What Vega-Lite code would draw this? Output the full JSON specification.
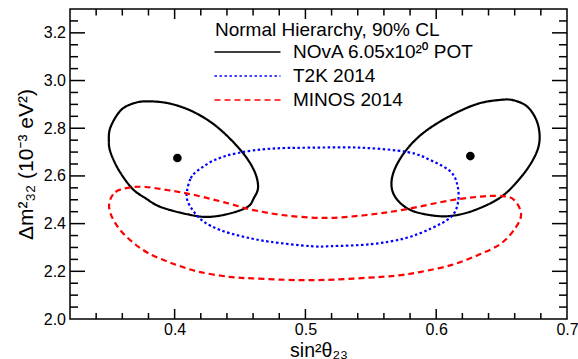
{
 "$schema": "https://vega.github.io/schema/vega-lite/v6.json",
 "width": 497, "height": 310,
 "autosize": "none",
 "padding": {"left": 70, "top": 9, "right": 11, "bottom": 40},
 "background": "white",
 "config": {
  "view": {"stroke": "black", "strokeWidth": 1.5},
  "axis": {"domain": false, "ticks": false, "grid": false, "labelFont": "Liberation Sans, Noto Sans", "labelFontSize": 16, "labelColor": "black", "titleFont": "Liberation Sans, Noto Sans", "titleFontSize": 19.5, "titleFontWeight": "normal", "titleColor": "black"}
 },
 "datasets": {
  "contours": [
   {"s":"NOvA 6.05x10²⁰ POT","c":"N1","i":0,"x":0.3803,"y":2.913},
   {"s":"NOvA 6.05x10²⁰ POT","c":"N1","i":1,"x":0.3970,"y":2.9025},
   {"s":"NOvA 6.05x10²⁰ POT","c":"N1","i":2,"x":0.4148,"y":2.8674},
   {"s":"NOvA 6.05x10²⁰ POT","c":"N1","i":3,"x":0.4327,"y":2.8046},
   {"s":"NOvA 6.05x10²⁰ POT","c":"N1","i":4,"x":0.4506,"y":2.7071},
   {"s":"NOvA 6.05x10²⁰ POT","c":"N1","i":5,"x":0.4607,"y":2.6234},
   {"s":"NOvA 6.05x10²⁰ POT","c":"N1","i":6,"x":0.4638,"y":2.5536},
   {"s":"NOvA 6.05x10²⁰ POT","c":"N1","i":7,"x":0.4605,"y":2.5063},
   {"s":"NOvA 6.05x10²⁰ POT","c":"N1","i":8,"x":0.4557,"y":2.4699},
   {"s":"NOvA 6.05x10²⁰ POT","c":"N1","i":9,"x":0.4414,"y":2.4414},
   {"s":"NOvA 6.05x10²⁰ POT","c":"N1","i":10,"x":0.4251,"y":2.4280},
   {"s":"NOvA 6.05x10²⁰ POT","c":"N1","i":11,"x":0.4097,"y":2.4393},
   {"s":"NOvA 6.05x10²⁰ POT","c":"N1","i":12,"x":0.3893,"y":2.4699},
   {"s":"NOvA 6.05x10²⁰ POT","c":"N1","i":13,"x":0.3778,"y":2.5063},
   {"s":"NOvA 6.05x10²⁰ POT","c":"N1","i":14,"x":0.3676,"y":2.5469},
   {"s":"NOvA 6.05x10²⁰ POT","c":"N1","i":15,"x":0.3574,"y":2.6234},
   {"s":"NOvA 6.05x10²⁰ POT","c":"N1","i":16,"x":0.3510,"y":2.6987},
   {"s":"NOvA 6.05x10²⁰ POT","c":"N1","i":17,"x":0.3497,"y":2.7490},
   {"s":"NOvA 6.05x10²⁰ POT","c":"N1","i":18,"x":0.3510,"y":2.8046},
   {"s":"NOvA 6.05x10²⁰ POT","c":"N1","i":19,"x":0.3587,"y":2.8745},
   {"s":"NOvA 6.05x10²⁰ POT","c":"N1","i":20,"x":0.3689,"y":2.9050},
   {"s":"NOvA 6.05x10²⁰ POT","c":"N2","i":0,"x":0.6496,"y":2.9192},
   {"s":"NOvA 6.05x10²⁰ POT","c":"N2","i":1,"x":0.6598,"y":2.9163},
   {"s":"NOvA 6.05x10²⁰ POT","c":"N2","i":2,"x":0.6701,"y":2.8883},
   {"s":"NOvA 6.05x10²⁰ POT","c":"N2","i":3,"x":0.6772,"y":2.8255},
   {"s":"NOvA 6.05x10²⁰ POT","c":"N2","i":4,"x":0.6790,"y":2.7490},
   {"s":"NOvA 6.05x10²⁰ POT","c":"N2","i":5,"x":0.6751,"y":2.6791},
   {"s":"NOvA 6.05x10²⁰ POT","c":"N2","i":6,"x":0.6649,"y":2.5954},
   {"s":"NOvA 6.05x10²⁰ POT","c":"N2","i":7,"x":0.6496,"y":2.5117},
   {"s":"NOvA 6.05x10²⁰ POT","c":"N2","i":8,"x":0.6292,"y":2.4561},
   {"s":"NOvA 6.05x10²⁰ POT","c":"N2","i":9,"x":0.6113,"y":2.4322},
   {"s":"NOvA 6.05x10²⁰ POT","c":"N2","i":10,"x":0.5960,"y":2.4351},
   {"s":"NOvA 6.05x10²⁰ POT","c":"N2","i":11,"x":0.5807,"y":2.4561},
   {"s":"NOvA 6.05x10²⁰ POT","c":"N2","i":12,"x":0.5705,"y":2.4979},
   {"s":"NOvA 6.05x10²⁰ POT","c":"N2","i":13,"x":0.5659,"y":2.5536},
   {"s":"NOvA 6.05x10²⁰ POT","c":"N2","i":14,"x":0.5679,"y":2.6234},
   {"s":"NOvA 6.05x10²⁰ POT","c":"N2","i":15,"x":0.5769,"y":2.7071},
   {"s":"NOvA 6.05x10²⁰ POT","c":"N2","i":16,"x":0.5909,"y":2.7837},
   {"s":"NOvA 6.05x10²⁰ POT","c":"N2","i":17,"x":0.6113,"y":2.8536},
   {"s":"NOvA 6.05x10²⁰ POT","c":"N2","i":18,"x":0.6318,"y":2.9025},
   {"s":"T2K 2014","c":"T","i":0,"x":0.4096,"y":2.5397},
   {"s":"T2K 2014","c":"T","i":1,"x":0.4123,"y":2.5900},
   {"s":"T2K 2014","c":"T","i":2,"x":0.4169,"y":2.6192},
   {"s":"T2K 2014","c":"T","i":3,"x":0.4301,"y":2.6653},
   {"s":"T2K 2014","c":"T","i":4,"x":0.4480,"y":2.6958},
   {"s":"T2K 2014","c":"T","i":5,"x":0.4735,"y":2.7142},
   {"s":"T2K 2014","c":"T","i":6,"x":0.5042,"y":2.7184},
   {"s":"T2K 2014","c":"T","i":7,"x":0.5424,"y":2.7184},
   {"s":"T2K 2014","c":"T","i":8,"x":0.5782,"y":2.7000},
   {"s":"T2K 2014","c":"T","i":9,"x":0.5960,"y":2.6653},
   {"s":"T2K 2014","c":"T","i":10,"x":0.6113,"y":2.6163},
   {"s":"T2K 2014","c":"T","i":11,"x":0.6165,"y":2.5536},
   {"s":"T2K 2014","c":"T","i":12,"x":0.6165,"y":2.4841},
   {"s":"T2K 2014","c":"T","i":13,"x":0.6113,"y":2.4280},
   {"s":"T2K 2014","c":"T","i":14,"x":0.5960,"y":2.3795},
   {"s":"T2K 2014","c":"T","i":15,"x":0.5756,"y":2.3377},
   {"s":"T2K 2014","c":"T","i":16,"x":0.5501,"y":2.3138},
   {"s":"T2K 2014","c":"T","i":17,"x":0.5195,"y":2.3054},
   {"s":"T2K 2014","c":"T","i":18,"x":0.5042,"y":2.3054},
   {"s":"T2K 2014","c":"T","i":19,"x":0.4735,"y":2.3234},
   {"s":"T2K 2014","c":"T","i":20,"x":0.4531,"y":2.3444},
   {"s":"T2K 2014","c":"T","i":21,"x":0.4352,"y":2.3724},
   {"s":"T2K 2014","c":"T","i":22,"x":0.4225,"y":2.4071},
   {"s":"T2K 2014","c":"T","i":23,"x":0.4148,"y":2.4490},
   {"s":"T2K 2014","c":"T","i":24,"x":0.4097,"y":2.4979},
   {"s":"MINOS 2014","c":"M","i":0,"x":0.3502,"y":2.4908},
   {"s":"MINOS 2014","c":"M","i":1,"x":0.3548,"y":2.5326},
   {"s":"MINOS 2014","c":"M","i":2,"x":0.3650,"y":2.5510},
   {"s":"MINOS 2014","c":"M","i":3,"x":0.3778,"y":2.5536},
   {"s":"MINOS 2014","c":"M","i":4,"x":0.3957,"y":2.5397},
   {"s":"MINOS 2014","c":"M","i":5,"x":0.4161,"y":2.5188},
   {"s":"MINOS 2014","c":"M","i":6,"x":0.4416,"y":2.4841},
   {"s":"MINOS 2014","c":"M","i":7,"x":0.4582,"y":2.4590},
   {"s":"MINOS 2014","c":"M","i":8,"x":0.4837,"y":2.4351},
   {"s":"MINOS 2014","c":"M","i":9,"x":0.5143,"y":2.4238},
   {"s":"MINOS 2014","c":"M","i":10,"x":0.5450,"y":2.4351},
   {"s":"MINOS 2014","c":"M","i":11,"x":0.5756,"y":2.4590},
   {"s":"MINOS 2014","c":"M","i":12,"x":0.6113,"y":2.4979},
   {"s":"MINOS 2014","c":"M","i":13,"x":0.6368,"y":2.5146},
   {"s":"MINOS 2014","c":"M","i":14,"x":0.6522,"y":2.5146},
   {"s":"MINOS 2014","c":"M","i":15,"x":0.6598,"y":2.4979},
   {"s":"MINOS 2014","c":"M","i":16,"x":0.6649,"y":2.4423},
   {"s":"MINOS 2014","c":"M","i":17,"x":0.6611,"y":2.3862},
   {"s":"MINOS 2014","c":"M","i":18,"x":0.6496,"y":2.3167},
   {"s":"MINOS 2014","c":"M","i":19,"x":0.6318,"y":2.2678},
   {"s":"MINOS 2014","c":"M","i":20,"x":0.6113,"y":2.2259},
   {"s":"MINOS 2014","c":"M","i":21,"x":0.5884,"y":2.1979},
   {"s":"MINOS 2014","c":"M","i":22,"x":0.5731,"y":2.1841},
   {"s":"MINOS 2014","c":"M","i":23,"x":0.5552,"y":2.1757},
   {"s":"MINOS 2014","c":"M","i":24,"x":0.5220,"y":2.1653},
   {"s":"MINOS 2014","c":"M","i":25,"x":0.4940,"y":2.1632},
   {"s":"MINOS 2014","c":"M","i":26,"x":0.4595,"y":2.1703},
   {"s":"MINOS 2014","c":"M","i":27,"x":0.4416,"y":2.1770},
   {"s":"MINOS 2014","c":"M","i":28,"x":0.4186,"y":2.1979},
   {"s":"MINOS 2014","c":"M","i":29,"x":0.3983,"y":2.2331},
   {"s":"MINOS 2014","c":"M","i":30,"x":0.3803,"y":2.2749},
   {"s":"MINOS 2014","c":"M","i":31,"x":0.3676,"y":2.3234},
   {"s":"MINOS 2014","c":"M","i":32,"x":0.3574,"y":2.3795},
   {"s":"MINOS 2014","c":"M","i":33,"x":0.3510,"y":2.4423}
  ],
  "best": [
   {"x": 0.4021, "y": 2.675},
   {"x": 0.6261, "y": 2.6833}
  ],
  "xmaj": [{"v": 0.4}, {"v": 0.5}, {"v": 0.6}],
  "xmin": [{"v": 0.34}, {"v": 0.36}, {"v": 0.38}, {"v": 0.42}, {"v": 0.44}, {"v": 0.46}, {"v": 0.48}, {"v": 0.52}, {"v": 0.54}, {"v": 0.56}, {"v": 0.58}, {"v": 0.62}, {"v": 0.64}, {"v": 0.66}, {"v": 0.68}],
  "ymaj": [{"v": 2.2}, {"v": 2.4}, {"v": 2.6}, {"v": 2.8}, {"v": 3.0}, {"v": 3.2}],
  "ymin": [{"v": 2.05}, {"v": 2.1}, {"v": 2.15}, {"v": 2.25}, {"v": 2.3}, {"v": 2.35}, {"v": 2.45}, {"v": 2.5}, {"v": 2.55}, {"v": 2.65}, {"v": 2.7}, {"v": 2.75}, {"v": 2.85}, {"v": 2.9}, {"v": 2.95}, {"v": 3.05}, {"v": 3.1}, {"v": 3.15}, {"v": 3.25}]
 },
 "layer": [
  {
   "data": {"name": "contours"},
   "mark": {"type": "line", "interpolate": "cardinal-closed", "strokeWidth": 2.2},
   "encoding": {
    "x": {"field": "x", "type": "quantitative", "scale": {"domain": [0.32, 0.7], "nice": false, "zero": false},
          "axis": {"orient": "bottom", "values": [0.4, 0.5, 0.6, 0.7], "format": ".1f", "labelPadding": 2, "labelFlush": false, "title": "sin²θ₂₃", "titlePadding": 4}},
    "y": {"field": "y", "type": "quantitative", "scale": {"domain": [2.0, 3.3], "nice": false, "zero": false},
          "axis": {"orient": "left", "values": [2.0, 2.2, 2.4, 2.6, 2.8, 3.0, 3.2], "format": ".1f", "labelPadding": 4.5, "labelFlush": false, "title": "Δm²₃₂ (10⁻³ eV²)", "titleFontSize": 21, "titlePadding": 7}},
    "color": {"field": "s", "type": "nominal",
              "scale": {"domain": ["NOvA 6.05x10²⁰ POT", "T2K 2014", "MINOS 2014"], "range": ["#000000", "#0000ff", "#ff0000"]},
              "legend": {"title": "Normal Hierarchy, 90% CL", "orient": "none", "legendX": 145, "legendY": 12, "symbolType": "M-1.67,0H9.33", "symbolSize": 144, "symbolStrokeWidth": 1.5, "labelOffset": 59, "rowPadding": 4, "titlePadding": 2.5, "padding": 0, "labelFontSize": 19, "titleFontSize": 19, "labelFont": "Liberation Sans, Noto Sans", "titleFont": "Liberation Sans", "titleFontWeight": "normal", "labelColor": "black", "titleColor": "black", "labelLimit": 0, "titleLimit": 0}},
    "strokeDash": {"field": "s", "type": "nominal",
              "scale": {"domain": ["NOvA 6.05x10²⁰ POT", "T2K 2014", "MINOS 2014"], "range": [[1, 0], [2.5, 2.5], [6, 4]]},
              "legend": {"title": "Normal Hierarchy, 90% CL", "orient": "none", "legendX": 145, "legendY": 12, "symbolType": "M-1.67,0H9.33", "symbolSize": 144, "symbolStrokeWidth": 1.5, "labelOffset": 59, "rowPadding": 4, "titlePadding": 2.5, "padding": 0, "labelFontSize": 19, "titleFontSize": 19, "labelFont": "Liberation Sans, Noto Sans", "titleFont": "Liberation Sans", "titleFontWeight": "normal", "labelColor": "black", "titleColor": "black", "labelLimit": 0, "titleLimit": 0}},
    "detail": {"field": "c"},
    "order": {"field": "i", "type": "quantitative"}
   }
  },
  {
   "data": {"name": "best"},
   "mark": {"type": "point", "filled": true, "color": "black", "size": 75, "opacity": 1},
   "encoding": {
    "x": {"field": "x", "type": "quantitative"},
    "y": {"field": "y", "type": "quantitative"}
   }
  },
  {
   "data": {"name": "xmaj"},
   "mark": {"type": "tick", "orient": "vertical", "size": 10, "thickness": 1.5, "color": "black", "opacity": 1, "yOffset": -5},
   "encoding": {"x": {"field": "v", "type": "quantitative"}, "y": {"datum": 2.0, "type": "quantitative"}}
  },
  {
   "data": {"name": "xmaj"},
   "mark": {"type": "tick", "orient": "vertical", "size": 10, "thickness": 1.5, "color": "black", "opacity": 1, "yOffset": 5},
   "encoding": {"x": {"field": "v", "type": "quantitative"}, "y": {"datum": 3.3, "type": "quantitative"}}
  },
  {
   "data": {"name": "xmin"},
   "mark": {"type": "tick", "orient": "vertical", "size": 6, "thickness": 1.5, "color": "black", "opacity": 1, "yOffset": -3},
   "encoding": {"x": {"field": "v", "type": "quantitative"}, "y": {"datum": 2.0, "type": "quantitative"}}
  },
  {
   "data": {"name": "xmin"},
   "mark": {"type": "tick", "orient": "vertical", "size": 6.5, "thickness": 1.5, "color": "black", "opacity": 1, "yOffset": 3.25},
   "encoding": {"x": {"field": "v", "type": "quantitative"}, "y": {"datum": 3.3, "type": "quantitative"}}
  },
  {
   "data": {"name": "ymaj"},
   "mark": {"type": "tick", "orient": "horizontal", "size": 15, "thickness": 1.5, "color": "black", "opacity": 1, "xOffset": 7.5},
   "encoding": {"y": {"field": "v", "type": "quantitative"}, "x": {"datum": 0.32, "type": "quantitative"}}
  },
  {
   "data": {"name": "ymaj"},
   "mark": {"type": "tick", "orient": "horizontal", "size": 15, "thickness": 1.5, "color": "black", "opacity": 1, "xOffset": -7.5},
   "encoding": {"y": {"field": "v", "type": "quantitative"}, "x": {"datum": 0.7, "type": "quantitative"}}
  },
  {
   "data": {"name": "ymin"},
   "mark": {"type": "tick", "orient": "horizontal", "size": 8, "thickness": 1.5, "color": "black", "opacity": 1, "xOffset": 4},
   "encoding": {"y": {"field": "v", "type": "quantitative"}, "x": {"datum": 0.32, "type": "quantitative"}}
  },
  {
   "data": {"name": "ymin"},
   "mark": {"type": "tick", "orient": "horizontal", "size": 8, "thickness": 1.5, "color": "black", "opacity": 1, "xOffset": -4},
   "encoding": {"y": {"field": "v", "type": "quantitative"}, "x": {"datum": 0.7, "type": "quantitative"}}
  }
 ]
}
